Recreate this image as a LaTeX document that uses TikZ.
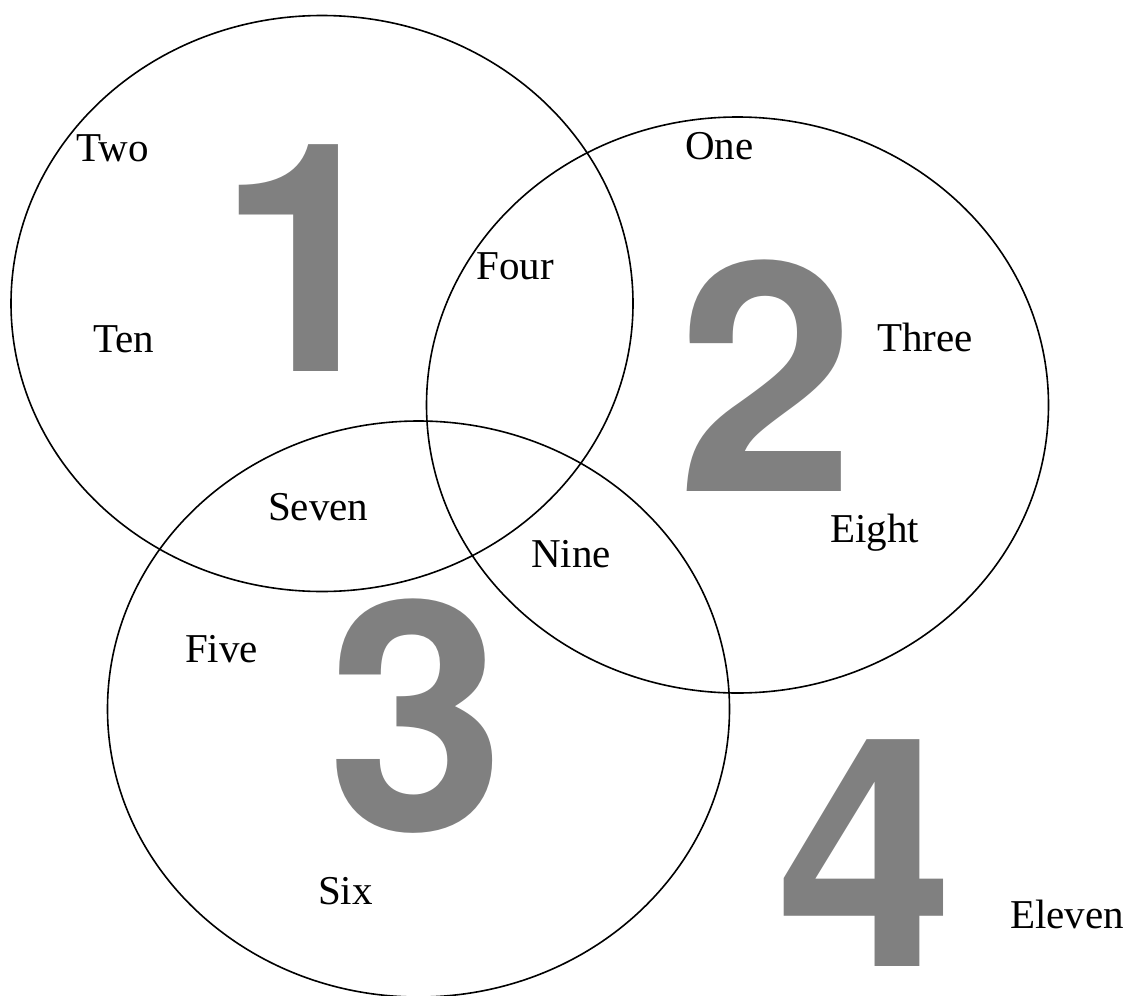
\documentclass[tikz,border=0pt]{standalone}
\usepackage{fontspec}
\setmainfont{Liberation Serif}
\newfontfamily\numfont{TeX Gyre Heros}
\usetikzlibrary{shapes.geometric}
\definecolor{vngray}{HTML}{808080}

\begin{document}
\begin{tikzpicture}[x=1pt, y=-1pt,
    setring/.style={draw, ellipse, line width=1.6pt, inner sep=0pt, minimum width=622pt, minimum height=576pt},
    word/.style={anchor=base west, inner sep=0pt, font=\fontsize{41}{41}\selectfont},
    bignum/.style={anchor=base, inner sep=0pt, text=vngray, font=\numfont\bfseries\fontsize{320}{320}\selectfont}]
  \useasboundingbox (0,0) rectangle (1130,996);
  % the three sets
  \node[setring] (set1) at (322, 303.5) {};
  \node[setring] (set2) at (737.5, 405) {};
  \node[setring] (set3) at (418.5, 709) {};
  % region numbers
  \node[bignum] (num1) at (306, 371) {1};
  \node[bignum] (num2) at (766.5, 491) {2};
  \node[bignum] (num3) at (416, 830) {3};
  \node[bignum] (num4) at (865.5, 966) {4};
  % members
  \node[word] (two) at (76, 161) {Two};
  \node[word] (ten) at (93, 352) {Ten};
  \node[word] (four) at (476, 279) {Four};
  \node[word] (one) at (685, 159) {One};
  \node[word] (three) at (877, 351) {Three};
  \node[word] (eight) at (830, 542) {Eight};
  \node[word] (nine) at (531, 567) {Nine};
  \node[word] (seven) at (268, 520) {Seven};
  \node[word] (five) at (185, 662) {Five};
  \node[word] (six) at (318, 904) {Six};
  \node[word] (eleven) at (1010, 928) {Eleven};
\end{tikzpicture}
\end{document}
